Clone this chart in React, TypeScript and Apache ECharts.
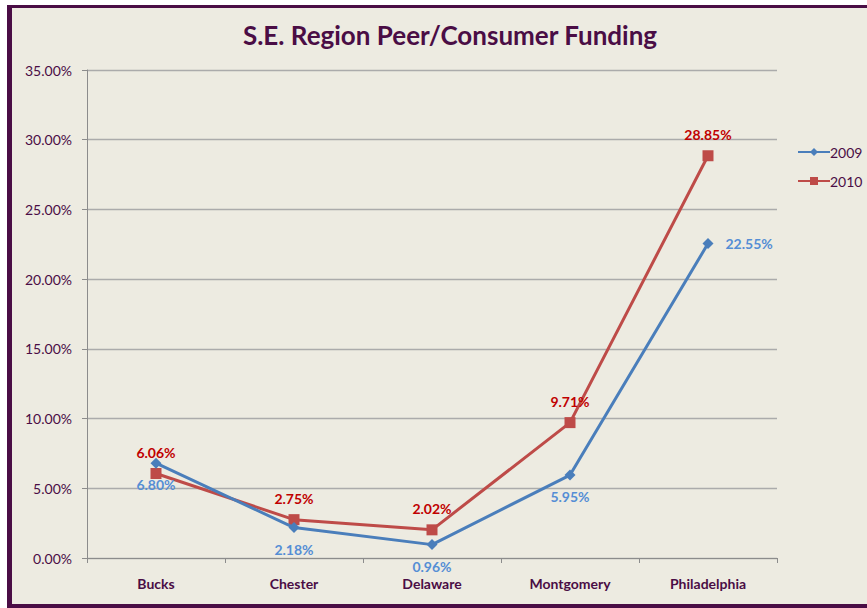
import React, { useEffect, useRef } from "react";
import * as echarts from "echarts";

const categories = ["Bucks", "Chester", "Delaware", "Montgomery", "Philadelphia"];
const values2009 = [6.8, 2.18, 0.96, 5.95, 22.55];
const values2010 = [6.06, 2.75, 2.02, 9.71, 28.85];
const seriesNames = ["2009", "2010"];

const PURPLE = "#4A0D45";
const FONT = "Lato, 'Open Sans', sans-serif";

export default function App() {
  const ref = useRef<HTMLDivElement>(null);
  useEffect(() => {
    if (!ref.current) return;
    const chart = echarts.init(ref.current, undefined, { renderer: "svg" });
    chart.setOption({
      animation: false,
      backgroundColor: "#EDEBE1",
      textStyle: { fontFamily: FONT },
      title: {
        text: "S.E. Region Peer/Consumer Funding",
        left: 445,
        textAlign: "center",
        top: 17,
        textStyle: { fontFamily: FONT, fontSize: 26, fontWeight: "bold", color: PURPLE },
      },
      legend: {
        orient: "vertical",
        left: 792,
        top: 140,
        itemWidth: 32,
        itemHeight: 10,
        itemGap: 15,
        data: seriesNames,
        textStyle: { fontFamily: FONT, fontSize: 14, color: PURPLE, padding: [0, 0, 0, -5] },
      },
      grid: { left: 87, right: 90, top: 70, bottom: 50 },
      xAxis: {
        type: "category",
        data: categories,
        boundaryGap: true,
        axisLine: { lineStyle: { color: "#8C8C8C", width: 1 } },
        axisTick: { show: true, length: 5, lineStyle: { color: "#8C8C8C" } },
        axisLabel: { margin: 18, fontFamily: FONT, fontSize: 14, fontWeight: "bold", color: PURPLE },
      },
      yAxis: {
        type: "value",
        min: 0,
        max: 35,
        interval: 5,
        axisLine: { show: true, lineStyle: { color: "#8C8C8C", width: 1 } },
        axisTick: { show: true, length: 5, lineStyle: { color: "#8C8C8C" } },
        splitLine: { lineStyle: { color: "#ABABAB", width: 1.3 } },
        axisLabel: {
          margin: 15,
          fontFamily: FONT,
          fontSize: 14,
          color: PURPLE,
          formatter: (v: number) => v.toFixed(2) + "%",
        },
      },
      series: [
        {
          name: seriesNames[0],
          type: "line",
          data: values2009.map((v, i) =>
            i === 4
              ? { value: v, label: { position: "right", distance: 12 } }
              : v
          ),
          symbol: "diamond",
          symbolSize: 11,
          color: "#4A7EBB",
          lineStyle: { width: 3, color: "#4A7EBB" },
          itemStyle: { color: "#4A7EBB" },
          z: 3,
          label: {
            show: true,
            position: "bottom",
            distance: 9,
            fontFamily: FONT,
            fontSize: 14,
            fontWeight: "bold",
            color: "#558ED5",
            formatter: (p: any) => Number(p.value).toFixed(2) + "%",
          },
        },
        {
          name: seriesNames[1],
          type: "line",
          data: values2010,
          symbol: "rect",
          symbolSize: 11,
          color: "#BE4B48",
          lineStyle: { width: 3, color: "#BE4B48" },
          itemStyle: { color: "#BE4B48" },
          z: 2,
          label: {
            show: true,
            position: "top",
            distance: 9,
            fontFamily: FONT,
            fontSize: 14,
            fontWeight: "bold",
            color: "#C00000",
            formatter: (p: any) => Number(p.value).toFixed(2) + "%",
          },
        },
      ],
      graphic: [
        { type: "rect", left: 0, top: 0, shape: { width: 867, height: 5 }, style: { fill: "#FFFFFF" }, z: 100 },
        { type: "rect", left: 0, top: 0, shape: { width: 7, height: 608 }, style: { fill: "#FFFFFF" }, z: 100 },
        { type: "rect", left: 7, top: 5, shape: { width: 860, height: 3 }, style: { fill: PURPLE }, z: 100 },
        { type: "rect", left: 7, top: 5, shape: { width: 5, height: 603 }, style: { fill: PURPLE }, z: 100 },
        { type: "rect", left: 7, top: 604, shape: { width: 860, height: 4 }, style: { fill: PURPLE }, z: 100 },
      ],
    });
    return () => chart.dispose();
  }, []);
  return (
    <div
      ref={ref}
      style={{ position: "fixed", left: 0, top: 0, width: 867, height: 608 }}
    />
  );
}
